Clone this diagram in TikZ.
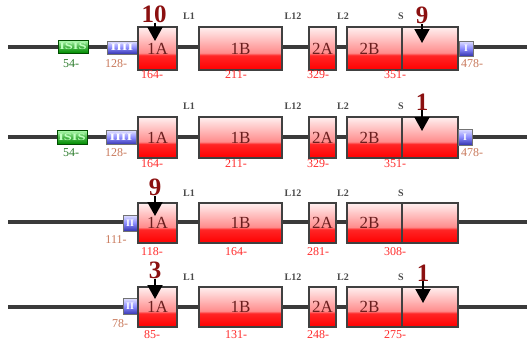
\documentclass[tikz,border=0pt]{standalone}
\usepackage{fontspec}
\usepackage{graphicx}
\setmainfont{Liberation Serif}
\usetikzlibrary{arrows.meta}

% shadings: pale at the top, saturated in the lower part
\pgfdeclareverticalshading{exonshade}{100bp}{%
  color(0bp)=(red); color(25bp)=(red); color(42bp)=(red!85!white);
  color(45bp)=(red!45!white); color(75bp)=(red!6!white); color(100bp)=(red!6!white)}
\pgfdeclareverticalshading{insshade}{100bp}{%
  color(0bp)=(green!55!black); color(25bp)=(green!55!black);
  color(50bp)=(green!60!black!70!white); color(75bp)=(green!30!white); color(100bp)=(green!30!white)}
\pgfdeclareverticalshading{tagshade}{100bp}{%
  color(0bp)=(blue!60!black!80!white); color(25bp)=(blue!60!black!80!white);
  color(50bp)=(blue!45!white); color(75bp)=(blue!12!white); color(100bp)=(blue!12!white)}

\definecolor{exontext}{HTML}{6A1E1E}
\definecolor{tagtext}{HTML}{4A4A4A}
\definecolor{posred}{HTML}{FF2A2A}
\definecolor{posgreen}{HTML}{2A7A2A}
\definecolor{possienna}{HTML}{C8785A}
\definecolor{bigred}{HTML}{8B1010}
\definecolor{backbonegray}{HTML}{3A3A3A}

\newcommand\widetag[1]{\scalebox{1.45}[1]{#1}}

\tikzset{
  backbone/.style={draw=backbonegray, line width=4pt},
  exon/.style={draw=black!75, line width=1.2pt, shading=exonshade, inner sep=0pt,
    font=\fontsize{17}{17}\selectfont, text=exontext},
  insbox/.style={draw=green!30!black, line width=0.8pt, shading=insshade, inner sep=0pt,
    font=\bfseries\fontsize{10}{10}\selectfont, text=green!25!white},
  tagbox/.style={draw=black!55, line width=0.8pt, shading=tagshade, inner sep=0pt,
    font=\bfseries\fontsize{10}{10}\selectfont, text=white},
  segtag/.style={font=\bfseries\fontsize{10}{10}\selectfont, text=tagtext, inner sep=0pt},
  poslbl/.style={font=\fontsize{12}{12}\selectfont, text=posred, inner sep=0pt},
  posg/.style={poslbl, text=posgreen},
  poss/.style={poslbl, text=possienna},
  count/.style={font=\bfseries\fontsize{25}{25}\selectfont, text=bigred, inner sep=0pt},
  pointer/.style={draw=black, line width=2pt, -{Triangle[width=15pt,length=14pt]}},
}

\begin{document}
\begin{tikzpicture}[x=1pt, y=-1pt]
\useasboundingbox (0,0) rectangle (527,343);

% ---------------- row 1 ----------------
\coordinate (a0) at (8,47);
\coordinate (a9) at (527,47);
\draw[backbone] (a0) -- (a9);
\node[insbox, minimum width=30pt, minimum height=13pt] (a-ins) at (73,46.5) {\widetag{ISIS}};
\node[tagbox, minimum width=30pt, minimum height=13pt] (a-tag) at (122,47.5) {\widetag{IIII}};
\node[exon, minimum width=39pt, minimum height=43pt] (a-1A) at (157.5,48.5) {1A};
\node[exon, minimum width=83pt, minimum height=43pt] (a-1B) at (240.5,48.5) {1B};
\node[exon, minimum width=27pt, minimum height=43pt] (a-2A) at (322.5,48.5) {2A};
\node[exon, minimum width=55pt, minimum height=43pt, text width=49pt, align=center] (a-2B) at (374.5,48.5) {2B\hspace*{10pt}};
\node[exon, minimum width=56pt, minimum height=43pt] (a-S) at (430,48.5) {};
\node[tagbox, minimum width=14pt, minimum height=15pt] (a-end) at (466,48.5) {I};
\node[segtag] (a-L1) at (189,16) {L1};
\node[segtag] (a-L12) at (293,16) {L12};
\node[segtag] (a-L2) at (343,16) {L2};
\node[segtag] (a-Ls) at (401,16) {S};
\node[posg] (a-p1) at (71,64) {54-};
\node[poss] (a-p2) at (116,64) {128-};
\node[poslbl] (a-p3) at (152,75) {164-};
\node[poslbl] (a-p4) at (236,75) {211-};
\node[poslbl] (a-p5) at (318,75) {329-};
\node[poslbl] (a-p6) at (395,75) {351-};
\node[poss] (a-p7) at (472,64) {478-};
\node[count] (a-n1) at (154,14) {10};
\coordinate (a-t1) at (155,41);
\draw[pointer] (a-n1.south -| a-t1) -- (a-t1);
\node[count] (a-n2) at (422,15) {9};
\coordinate (a-t2) at (422,43);
\draw[pointer] (a-n2.south) -- (a-t2);

% ---------------- row 2 ----------------
\coordinate (b0) at (8,137);
\coordinate (b9) at (527,137);
\draw[backbone] (b0) -- (b9);
\node[insbox, minimum width=30pt, minimum height=14pt] (b-ins) at (72,137) {\widetag{ISIS}};
\node[tagbox, minimum width=30pt, minimum height=14pt] (b-tag) at (121,137.5) {\widetag{IIII}};
\node[exon, minimum width=39pt, minimum height=41pt] (b-1A) at (157.5,137.5) {1A};
\node[exon, minimum width=83pt, minimum height=41pt] (b-1B) at (240.5,137.5) {1B};
\node[exon, minimum width=27pt, minimum height=41pt] (b-2A) at (322.5,137.5) {2A};
\node[exon, minimum width=55pt, minimum height=41pt, text width=49pt, align=center] (b-2B) at (374.5,137.5) {2B\hspace*{10pt}};
\node[exon, minimum width=56pt, minimum height=41pt] (b-S) at (430,137.5) {};
\node[tagbox, minimum width=14pt, minimum height=16pt] (b-end) at (465,137) {I};
\node[segtag] (b-L1) at (189,106) {L1};
\node[segtag] (b-L12) at (293,106) {L12};
\node[segtag] (b-L2) at (343,106) {L2};
\node[segtag] (b-Ls) at (401,106) {S};
\node[posg] (b-p1) at (71,153) {54-};
\node[poss] (b-p2) at (116,153) {128-};
\node[poslbl] (b-p3) at (152,164) {164-};
\node[poslbl] (b-p4) at (236,164) {211-};
\node[poslbl] (b-p5) at (318,164) {329-};
\node[poslbl] (b-p6) at (395,164) {351-};
\node[poss] (b-p7) at (472,153) {478-};
\node[count] (b-n2) at (422,102) {1};
\coordinate (b-t2) at (422,131);
\draw[pointer] (b-n2.south) -- (b-t2);

% ---------------- row 3 ----------------
\coordinate (c0) at (8,222);
\coordinate (c9) at (527,222);
\draw[backbone] (c0) -- (c9);
\node[tagbox, minimum width=14pt, minimum height=16pt] (c-tag) at (130,223) {II};
\node[exon, minimum width=39pt, minimum height=40pt] (c-1A) at (157.5,223) {1A};
\node[exon, minimum width=83pt, minimum height=40pt] (c-1B) at (240.5,223) {1B};
\node[exon, minimum width=27pt, minimum height=40pt] (c-2A) at (322.5,223) {2A};
\node[exon, minimum width=55pt, minimum height=40pt, text width=49pt, align=center] (c-2B) at (374.5,223) {2B\hspace*{10pt}};
\node[exon, minimum width=56pt, minimum height=40pt] (c-S) at (430,223) {};
\node[segtag] (c-L1) at (189,193) {L1};
\node[segtag] (c-L12) at (293,193) {L12};
\node[segtag] (c-L2) at (343,193) {L2};
\node[segtag] (c-Ls) at (401,193) {S};
\node[poss] (c-p2) at (116,240) {111-};
\node[poslbl] (c-p3) at (152,252) {118-};
\node[poslbl] (c-p4) at (236,252) {164-};
\node[poslbl] (c-p5) at (318,252) {281-};
\node[poslbl] (c-p6) at (395,252) {308-};
\node[count] (c-n1) at (155,187) {9};
\coordinate (c-t1) at (155,216);
\draw[pointer] (c-n1.south) -- (c-t1);

% ---------------- row 4 ----------------
\coordinate (d0) at (8,307);
\coordinate (d9) at (527,307);
\draw[backbone] (d0) -- (d9);
\node[tagbox, minimum width=14pt, minimum height=16pt] (d-tag) at (130,306.5) {II};
\node[exon, minimum width=39pt, minimum height=40pt] (d-1A) at (157.5,307) {1A};
\node[exon, minimum width=83pt, minimum height=40pt] (d-1B) at (240.5,307) {1B};
\node[exon, minimum width=27pt, minimum height=40pt] (d-2A) at (322.5,307) {2A};
\node[exon, minimum width=55pt, minimum height=40pt, text width=49pt, align=center] (d-2B) at (374.5,307) {2B\hspace*{10pt}};
\node[exon, minimum width=56pt, minimum height=40pt] (d-S) at (430,307) {};
\node[segtag] (d-L1) at (189,277) {L1};
\node[segtag] (d-L12) at (293,277) {L12};
\node[segtag] (d-L2) at (343,277) {L2};
\node[segtag] (d-Ls) at (401,277) {S};
\node[poss] (d-p2) at (120,324) {78-};
\node[poslbl] (d-p3) at (152,335) {85-};
\node[poslbl] (d-p4) at (236,335) {131-};
\node[poslbl] (d-p5) at (318,335) {248-};
\node[poslbl] (d-p6) at (395,335) {275-};
\node[count] (d-n1) at (155,270) {3};
\coordinate (d-t1) at (155,299);
\draw[pointer] (d-n1.south) -- (d-t1);
\node[count] (d-n2) at (423,273) {1};
\coordinate (d-t2) at (423,303);
\draw[pointer] (d-n2.south) -- (d-t2);
\end{tikzpicture}
\end{document}
